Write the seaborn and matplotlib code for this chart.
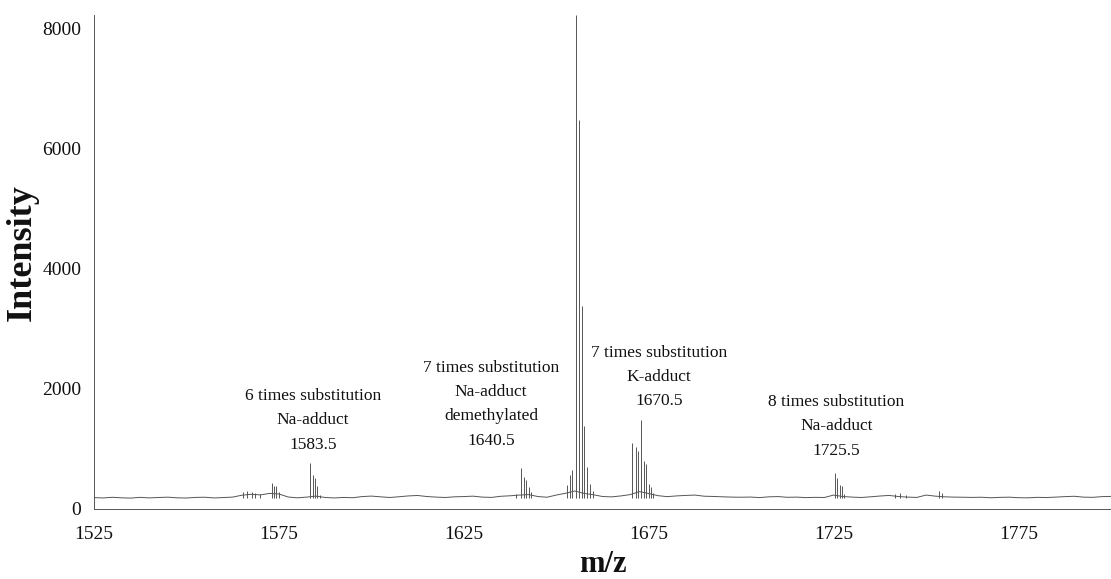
import numpy as np
import pandas as pd
import matplotlib
matplotlib.use("Agg")
import matplotlib.pyplot as plt
import seaborn as sns

# ---------------- data ----------------
baseline_mz = np.arange(1525, 1800.1, 2.5)
baseline_int = [190, 184, 195, 186, 182, 194, 185, 192, 197, 186, 183, 193, 196, 184, 191,
                198, 230, 245, 235, 260, 250, 200, 186,
                198, 215, 192, 184, 193, 188, 207, 215,
                203, 192, 204, 218, 225, 208, 198, 192,
                203, 207, 214, 198, 193, 212, 220, 232,
                240, 208, 196, 232, 262, 300, 260, 238,
                208, 202, 218, 240, 290, 258, 222, 206,
                218, 226, 232, 213, 209, 203, 198, 196,
                199, 190, 203, 207, 195, 198, 190, 194,
                192, 232, 208, 198, 192, 203, 216, 226,
                208, 198, 193, 232, 214, 203, 198, 196,
                193, 196, 187, 194, 197, 188, 186, 194,
                191, 198, 206, 212, 198, 194, 206, 210]

peak_mz = [1565.3, 1566.5, 1567.6, 1568.5, 1570.0,
           1573.1, 1573.7, 1574.3, 1574.9,
           1583.5, 1584.2, 1584.8, 1585.4, 1586.0,
           1639.1, 1640.5, 1641.3, 1641.9, 1642.6, 1643.3,
           1653.0, 1653.6, 1654.2, 1655.4, 1656.2, 1657.0, 1657.6, 1658.4, 1659.1, 1659.8,
           1670.6, 1671.5, 1672.1, 1672.8, 1673.7, 1674.2, 1675.1, 1675.5, 1676.2,
           1725.4, 1726.0, 1726.6, 1727.2, 1727.9,
           1741.5, 1743.0, 1744.5, 1753.5, 1754.2]
peak_int = [285, 300, 290, 265, 250,
            440, 385, 375, 275,
            760, 560, 520, 380, 240,
            250, 690, 540, 490, 370, 290,
            400, 560, 650, 8230, 6480, 3380, 1390, 700, 420, 300,
            1100, 1030, 970, 1475, 800, 750, 420, 360, 260,
            600, 520, 400, 380, 250,
            250, 260, 240, 300, 260]
BASE = 190

annot_text = ["6 times substitution\nNa-adduct\n1583.5",
              "7 times substitution\nNa-adduct\ndemethylated\n1640.5",
              "7 times substitution\nK-adduct\n1670.5",
              "8 times substitution\nNa-adduct\n1725.5"]
annot_mz = [1584.2, 1632.4, 1677.8, 1725.8]
annot_y = [1480, 1745, 2200, 1375]

x_ticks = [1525, 1575, 1625, 1675, 1725, 1775]
y_ticks = [0, 2000, 4000, 6000, 8000]

# ---------------- style ----------------
sns.set_theme(style="white")
plt.rcParams['font.family'] = ['Liberation Serif', 'DejaVu Serif']

fig = plt.figure(figsize=(11.11, 5.79), dpi=100)
ax = fig.add_axes([0.0846, 0.1209, 0.9154, 0.8532])

line_col = "#555555"
base_df = pd.DataFrame({"mz": baseline_mz, "intensity": baseline_int})
sns.lineplot(data=base_df, x="mz", y="intensity", ax=ax, color=line_col, lw=0.7)
ax.vlines(peak_mz, BASE, peak_int, color=line_col, lw=0.7)

for t, xm, ym in zip(annot_text, annot_mz, annot_y):
    ax.text(xm, ym, t, ha="center", va="center", fontsize=12.5,
            linespacing=1.7, color="#111111")

ax.set_xlim(1525, 1800)
ax.set_ylim(0, 8230)
ax.set_xticks(x_ticks)
ax.set_yticks(y_ticks)
ax.tick_params(axis="x", direction="inout", length=8, width=0.7, labelsize=14,
               pad=8, colors="#333333", labelcolor="#111111")
ax.tick_params(axis="y", direction="inout", length=6, width=0.7, labelsize=14,
               pad=6, colors="#333333", labelcolor="#111111")
for s in ["top", "right"]:
    ax.spines[s].set_visible(False)
for s in ["left", "bottom"]:
    ax.spines[s].set_color("#555555")
    ax.spines[s].set_linewidth(0.7)

ax.set_xlabel("m/z", fontsize=22, fontweight="bold", color="#111111")
ax.set_ylabel("Intensity", fontsize=26, fontweight="bold", color="#111111")
ax.xaxis.set_label_coords(0.5, -0.082)
ax.yaxis.set_label_coords(-0.054, 0.52)

fig.savefig("out.png", dpi=100)
